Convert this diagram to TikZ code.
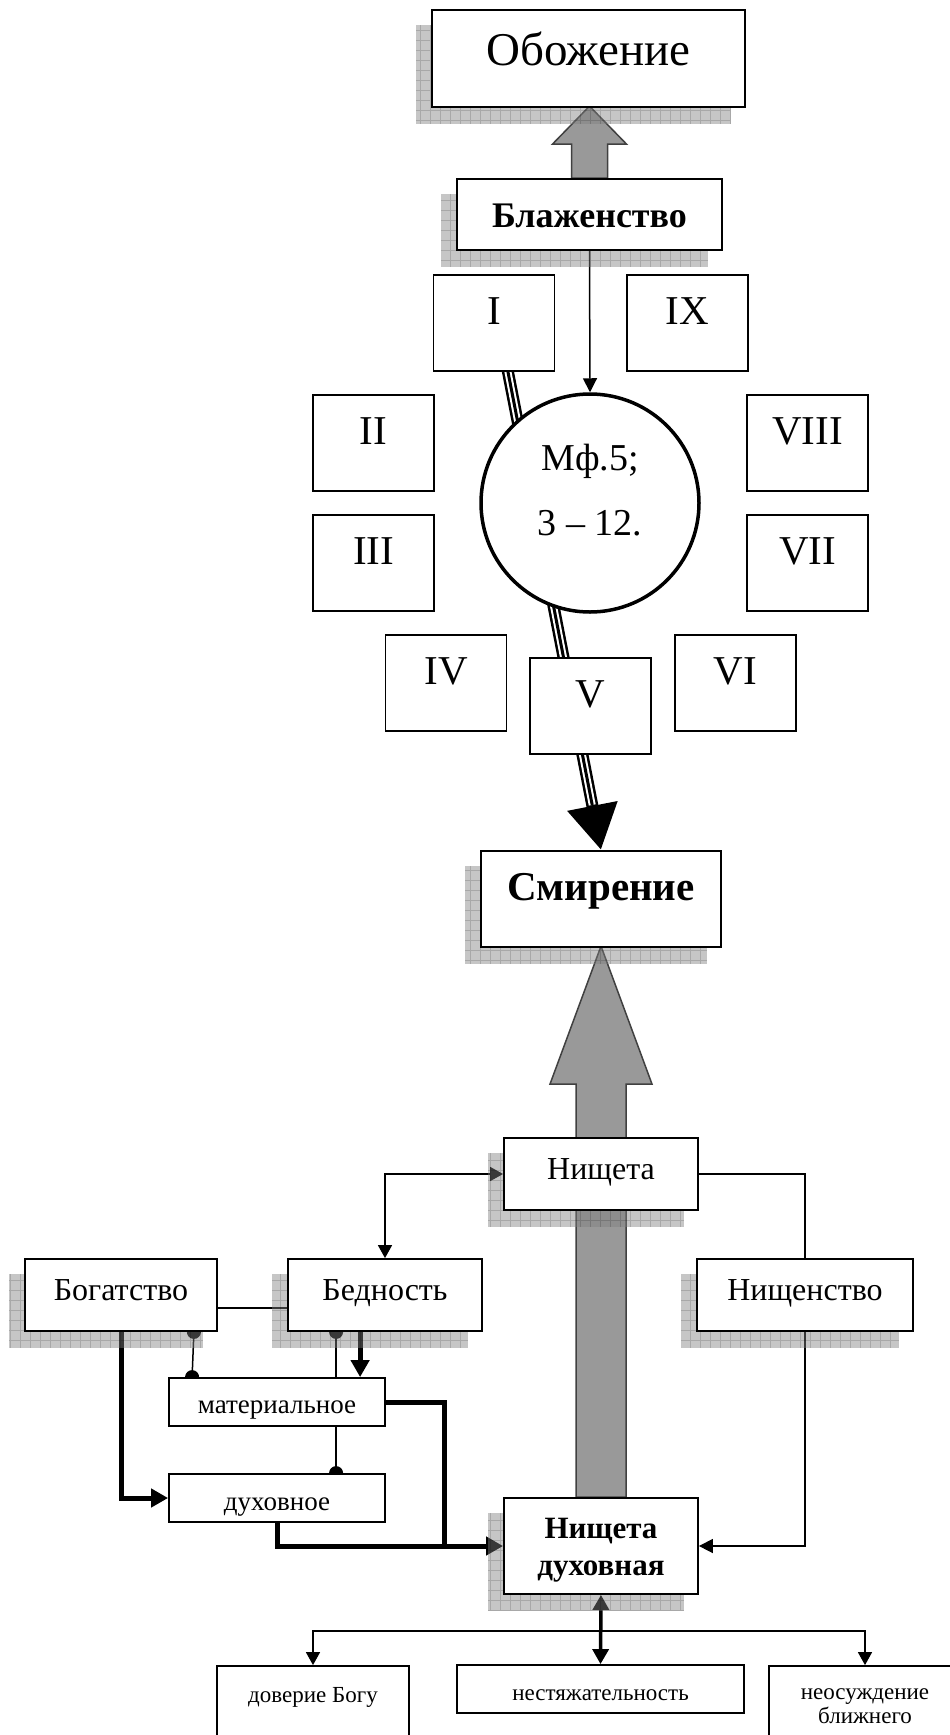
\documentclass[tikz,border=0pt]{standalone}
\usepackage{fontspec}
\setmainfont{Liberation Serif}
\usetikzlibrary{positioning,arrows.meta,calc}
\pgfdeclarelayer{lines}
\pgfdeclarelayer{shade}
\pgfsetlayers{lines,shade,main}
\tikzset{
  fs/.style={font=\fontsize{#1}{#1}\selectfont},
  tb/.style 2 args={text height=#1pt,text depth=#2pt},
}
\tikzstyle{box}=[draw,line width=1.8pt,fill=white,inner sep=0pt]
\tikzstyle{roman}=[box,fs=41,tb={21.5}{18.5},minimum width=121,minimum height=96]
\tikzstyle{midbox}=[box,fs=32,tb={25.5}{14.5},minimum height=72]
\tikzstyle{ln}=[line width=1.5pt]
\tikzstyle{arr}=[ln,-{Triangle[length=14pt,width=14pt]}]
\tikzstyle{thk}=[line width=5pt,-{Triangle[length=17pt,width=18pt]}]
\tikzstyle{bigarr}=[fill=gray!80,draw=black!75,line width=1.5pt,line join=miter]
\tikzstyle{shadowfill}=[fill=gray,fill opacity=0.45]
\tikzstyle{shadowgrid}=[draw=black,draw opacity=0.15,line width=0.8pt,step=10pt]
\newcommand{\boxshadow}[1]{%
  \begin{pgfonlayer}{shade}
    \begin{scope}
      \clip ([shift={(-15,16)}]#1.north west) rectangle ([shift={(-15,16)}]#1.south east);
      \fill[shadowfill] ([shift={(-15,16)}]#1.north west) rectangle ([shift={(-15,16)}]#1.south east);
      \draw[shadowgrid] ([shift={(-25,6)}]#1.north west) grid ([shift={(-5,26)}]#1.south east);
    \end{scope}
  \end{pgfonlayer}}

\begin{document}
\begin{tikzpicture}[x=1pt,y=-1pt]
    \useasboundingbox (0,0) rectangle (950,1735);

    % upper part
    \node[box,fs=47,tb={26.5}{13.5},minimum width=313,minimum height=97] (obozh) at (588.5,58.5) {Обожение};
    \node[box,font=\fontsize{36}{36}\selectfont\bfseries,tb={32.5}{7.5},minimum width=265,minimum height=71] (blazh) at (589.5,214.5) {Блаженство};

    \node[roman] (I) at (494,323) {I};
    \node[roman] (IX) at (687.5,323) {IX};
    \node[roman] (II) at (373.5,443) {II};
    \node[roman] (III) at (373.5,563) {III};
    \node[roman] (VIII) at (807.5,443) {VIII};
    \node[roman] (VII) at (807.5,563) {VII};
    \node[roman] (IV) at (446,683) {IV};
    \node[roman] (VI) at (735.5,683) {VI};
    \node[roman] (V) at (590.5,706) {V};

    \node[circle,draw,line width=3.5pt,fill=white,inner sep=0pt,minimum size=218,align=center,
          font=\fontsize{38}{65}\selectfont,tb={64}{0}] (mf) at (590,503) {Мф.5;\\3 – 12.};

    \node[box,font=\fontsize{41}{41}\selectfont\bfseries,tb={21}{19},minimum width=240,minimum height=96] (smir) at (601,899) {Смирение};

    % lower part
    \node[midbox,minimum width=194] (nish) at (601,1174) {Нищета};
    \node[midbox,minimum width=192] (bog) at (121,1295) {Богатство};
    \node[midbox,minimum width=194] (bed) at (385,1295) {Бедность};
    \node[midbox,minimum width=216] (nishch) at (805,1295) {Нищенство};
    \node[box,fs=27,tb={23}{1},minimum width=216,minimum height=48] (mat) at (277,1402) {материальное};
    \node[box,fs=27,tb={24}{0},minimum width=216,minimum height=48] (duh) at (277,1498) {духовное};
    \node[box,font=\fontsize{31}{37}\selectfont\bfseries,align=center,tb={58}{0},minimum width=194,minimum height=96] (nduh) at (601,1546) {Нищета\\духовная};

    \node[box,fs=23,tb={8}{32},minimum width=192,minimum height=96] (dov) at (313,1714) {доверие Богу};
    \node[box,fs=23,tb={23}{1},minimum width=287,minimum height=48] (nest) at (600.5,1689) {нестяжательность};
    \node[box,font=\fontsize{23}{24}\selectfont,align=center,tb={28}{10},minimum width=192,minimum height=96] (neos) at (865,1714) {неосуждение\\ближнего};

    \boxshadow{obozh}
    \boxshadow{blazh}
    \boxshadow{smir}
    \boxshadow{nish}
    \boxshadow{bog}
    \boxshadow{bed}
    \boxshadow{nishch}
    \boxshadow{nduh}

    \begin{pgfonlayer}{lines}
    \draw[bigarr] (blazh.north) +(-18,0) -- +(-18,-34) -- +(-37,-34) -- +(0,-72) -- +(37,-34) -- +(18,-34) -- +(18,0) -- cycle;
    \draw[arr] (blazh.south) -- (mf.north);

    % triple line through the circle
    \draw[line width=12pt,-{Triangle[length=45pt,width=48pt]}] ([xshift=13pt,yshift=5pt]I.south) -- (smir.north);
    \draw[line width=7pt,white,shorten >=46pt] ([xshift=13pt,yshift=5pt]I.south) -- (smir.north);
    \draw[line width=3pt,shorten >=46pt] ([xshift=13pt,yshift=5pt]I.south) -- (smir.north);

    \draw[bigarr] (nduh.north) +(-25,0) -- +(-25,-413) -- +(-51,-413) -- +(0,-551) -- +(51,-413) -- +(25,-413) -- +(25,0) -- cycle;

    \draw[ln,{Triangle[length=13pt,width=14pt]}-{Triangle[length=13pt,width=14pt]}] (bed.north) |- (nish.west);
    \draw[ln] (nish.east) -| (nishch.north);
    \draw[arr] (nishch.south) |- (nduh.east);
    \draw[ln] ([yshift=-13pt]bog.east) -- ([yshift=-13pt]bed.west);

    \draw[ln,{Circle[length=14pt]}-{Circle[length=14pt]},shorten <=-7pt,shorten >=-7pt] ([xshift=-24pt]bog.south east) -- ([xshift=24pt]mat.north west);
    \draw[ln,{Circle[length=14pt]}-,shorten <=-7pt] ([xshift=49pt]bed.south west) -- ([xshift=168pt]mat.north west);
    \draw[ln,-{Circle[length=14pt]},shorten >=-7pt] ([xshift=168pt]mat.south west) -- ([xshift=168pt]duh.north west);
    \draw[thk] ([xshift=73pt]bed.south west) -- ([xshift=192pt]mat.north west);
    \draw[thk] (bog.south) |- (duh.west);
    \draw[thk,-] (mat.east) -| ([xshift=-59pt]nduh.west);
    \draw[thk] (duh.south) |- (nduh.west);

    \draw[line width=3.5pt,{Triangle[length=15pt,width=16pt]}-{Triangle[length=15pt,width=16pt]}] (nduh.south) -- (nest.north);
    \draw[ln,{Triangle[length=13pt,width=14pt]}-{Triangle[length=13pt,width=14pt]}] (dov.north) -- ++(0,-34) -| (neos.north);
    \end{pgfonlayer}
\end{tikzpicture}
\end{document}
